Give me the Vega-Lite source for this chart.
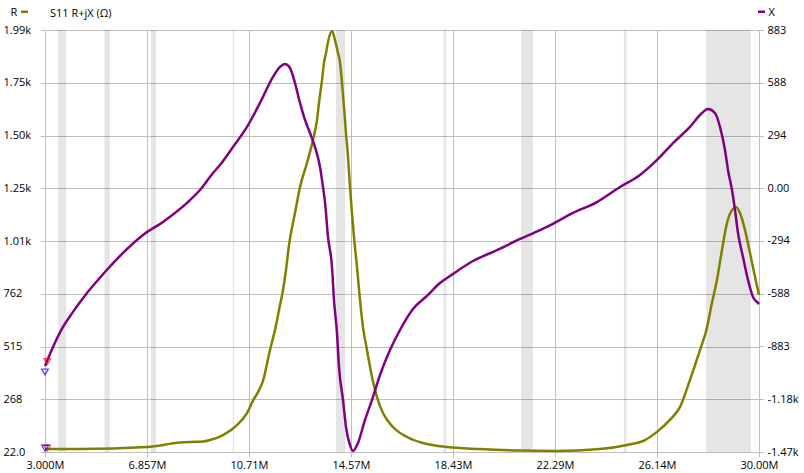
{
  "$schema": "https://vega.github.io/schema/vega-lite/v6.json",
  "width": 714,
  "height": 422,
  "autosize": {"type": "none"},
  "padding": {"left": 45, "top": 30, "right": 45, "bottom": 21},
  "background": "white",
  "config": {
    "font": "Open Sans",
    "view": {"stroke": null},
    "axis": {"labelFont": "Open Sans", "labelFontSize": 11, "labelColor": "#000", "titleFont": "Open Sans", "titleFontSize": 11, "titleFontWeight": "normal", "titleColor": "#000"}
  },
  "title": {"text": "S11 R+jX (Ω)", "anchor": "start", "frame": "group", "dx": 5, "dy": 13, "offset": 0, "fontSize": 11, "fontWeight": "normal", "font": "Open Sans", "color": "#000"},
  "datasets": {
    "bands": [
      {"f1": 3.5, "f2": 3.8},
      {"f1": 5.25, "f2": 5.45},
      {"f1": 7.0, "f2": 7.2},
      {"f1": 10.1, "f2": 10.15},
      {"f1": 14.0, "f2": 14.35},
      {"f1": 18.068, "f2": 18.168},
      {"f1": 21.0, "f2": 21.45},
      {"f1": 24.89, "f2": 24.99},
      {"f1": 28.0, "f2": 29.7}
    ],
    "R": [
      {"f": 3.0, "v": 36}, {"f": 4.32, "v": 36}, {"f": 6.857, "v": 45}, {"f": 8.105, "v": 66},
      {"f": 8.483, "v": 69}, {"f": 8.975, "v": 71}, {"f": 9.24, "v": 78}, {"f": 9.731, "v": 101},
      {"f": 10.26, "v": 148}, {"f": 10.639, "v": 204}, {"f": 10.865, "v": 262}, {"f": 11.055, "v": 302}, {"f": 11.244, "v": 355},
      {"f": 11.508, "v": 499}, {"f": 11.697, "v": 592}, {"f": 11.849, "v": 686}, {"f": 12.0, "v": 779},
      {"f": 12.113, "v": 873}, {"f": 12.227, "v": 990}, {"f": 12.454, "v": 1139}, {"f": 12.643, "v": 1261},
      {"f": 12.907, "v": 1373}, {"f": 13.134, "v": 1481}, {"f": 13.285, "v": 1574}, {"f": 13.361, "v": 1654},
      {"f": 13.475, "v": 1761}, {"f": 13.55, "v": 1841}, {"f": 13.626, "v": 1887}, {"f": 13.702, "v": 1939},
      {"f": 13.853, "v": 1990}, {"f": 13.966, "v": 1948}, {"f": 14.08, "v": 1887}, {"f": 14.155, "v": 1845},
      {"f": 14.231, "v": 1747}, {"f": 14.307, "v": 1635}, {"f": 14.382, "v": 1513}, {"f": 14.458, "v": 1401},
      {"f": 14.533, "v": 1261}, {"f": 14.609, "v": 1139}, {"f": 14.685, "v": 1027}, {"f": 14.798, "v": 887},
      {"f": 14.912, "v": 733}, {"f": 15.025, "v": 606}, {"f": 15.176, "v": 499}, {"f": 15.365, "v": 373},
      {"f": 15.554, "v": 279}, {"f": 15.781, "v": 204}, {"f": 16.159, "v": 139}, {"f": 16.689, "v": 92},
      {"f": 17.294, "v": 64}, {"f": 18.2, "v": 45}, {"f": 19.449, "v": 36}, {"f": 20.96, "v": 29},
      {"f": 22.32, "v": 27}, {"f": 23.99, "v": 36}, {"f": 25.01, "v": 55}, {"f": 25.69, "v": 78},
      {"f": 26.14, "v": 116}, {"f": 26.63, "v": 172}, {"f": 27.01, "v": 232}, {"f": 27.39, "v": 359},
      {"f": 27.77, "v": 499}, {"f": 28.03, "v": 602}, {"f": 28.22, "v": 719}, {"f": 28.41, "v": 826},
      {"f": 28.6, "v": 966}, {"f": 28.79, "v": 1093}, {"f": 28.98, "v": 1153}, {"f": 29.13, "v": 1167},
      {"f": 29.28, "v": 1139}, {"f": 29.47, "v": 1060}, {"f": 29.66, "v": 952}, {"f": 29.85, "v": 840},
      {"f": 30.0, "v": 756}
    ],
    "X": [
      {"f": 3.0, "v": -992}, {"f": 3.303, "v": -886}, {"f": 3.681, "v": -774}, {"f": 4.059, "v": -690},
      {"f": 4.588, "v": -585}, {"f": 5.193, "v": -480}, {"f": 5.95, "v": -361}, {"f": 6.706, "v": -261},
      {"f": 7.462, "v": -188}, {"f": 8.37, "v": -82}, {"f": 8.861, "v": -10}, {"f": 9.353, "v": 85},
      {"f": 9.618, "v": 130}, {"f": 10.109, "v": 230}, {"f": 10.639, "v": 342}, {"f": 11.13, "v": 476},
      {"f": 11.622, "v": 621}, {"f": 11.886, "v": 677}, {"f": 12.076, "v": 693}, {"f": 12.265, "v": 671},
      {"f": 12.454, "v": 587}, {"f": 12.643, "v": 476}, {"f": 12.832, "v": 381}, {"f": 13.021, "v": 308},
      {"f": 13.21, "v": 230}, {"f": 13.4, "v": 119}, {"f": 13.512, "v": 7}, {"f": 13.588, "v": -77},
      {"f": 13.702, "v": -272}, {"f": 13.853, "v": -439}, {"f": 13.928, "v": -624}, {"f": 14.042, "v": -808},
      {"f": 14.117, "v": -997}, {"f": 14.269, "v": -1182}, {"f": 14.382, "v": -1332}, {"f": 14.533, "v": -1433},
      {"f": 14.647, "v": -1466}, {"f": 14.836, "v": -1421}, {"f": 15.1, "v": -1293}, {"f": 15.365, "v": -1182},
      {"f": 15.668, "v": -1042}, {"f": 16.046, "v": -903}, {"f": 16.424, "v": -791}, {"f": 16.916, "v": -674},
      {"f": 17.445, "v": -601}, {"f": 17.937, "v": -529}, {"f": 18.315, "v": -490}, {"f": 19.185, "v": -406},
      {"f": 20.092, "v": -345}, {"f": 20.962, "v": -283}, {"f": 21.983, "v": -216}, {"f": 22.966, "v": -138},
      {"f": 23.874, "v": -77}, {"f": 24.743, "v": 7}, {"f": 25.5, "v": 74}, {"f": 26.143, "v": 158},
      {"f": 26.748, "v": 252}, {"f": 27.39, "v": 342}, {"f": 27.844, "v": 420}, {"f": 28.071, "v": 442},
      {"f": 28.336, "v": 420}, {"f": 28.525, "v": 342}, {"f": 28.714, "v": 213}, {"f": 28.827, "v": 102},
      {"f": 28.979, "v": -10}, {"f": 29.092, "v": -121}, {"f": 29.206, "v": -250}, {"f": 29.395, "v": -384},
      {"f": 29.584, "v": -512}, {"f": 29.773, "v": -607}, {"f": 29.962, "v": -640}, {"f": 30.0, "v": -646}
    ],
    "markers": [
      {"f": 3.0, "v": 40, "m": "2", "t": "R"},
      {"f": 3.08, "v": 40, "m": "1", "t": "R"},
      {"f": 3.09, "v": -967, "m": "1", "t": "X"},
      {"f": 3.0, "v": -1025, "m": "2", "t": "X"}
    ]
  },
  "layer": [
    {
      "data": {"name": "bands"},
      "mark": {"type": "rect", "color": "#000", "opacity": 0.1},
      "encoding": {
        "x": {
          "field": "f1", "type": "quantitative",
          "scale": {"domain": [3, 30], "nice": false, "zero": false},
          "axis": {
            "title": null, "domain": false, "grid": true, "gridColor": "#c0c0c0", "gridWidth": 1,
            "tickColor": "#c0c0c0", "tickSize": 5, "labelPadding": 2, "labelFlush": false, "labelOverlap": false,
            "values": [3, 6.857142857, 10.71428571, 14.57142857, 18.42857143, 22.28571429, 26.14285714, 30],
            "labelExpr": "['3.000M','6.857M','10.71M','14.57M','18.43M','22.29M','26.14M','30.00M'][round((datum.value-3)/27*7)]"
          }
        },
        "x2": {"field": "f2"}
      }
    },
    {
      "layer": [
        {
          "data": {"name": "R"},
          "mark": {"type": "line", "strokeWidth": 2.5, "interpolate": "monotone"},
          "encoding": {
            "x": {"field": "f", "type": "quantitative", "scale": {"domain": [3, 30], "nice": false, "zero": false}},
            "y": {
              "field": "v", "type": "quantitative",
              "scale": {"domain": [22, 1995], "nice": false, "zero": false},
              "axis": {
                "orient": "left", "domain": false, "grid": true, "gridColor": "#c0c0c0", "gridWidth": 1,
                "tickColor": "#c0c0c0", "tickSize": 5, "labelAlign": "left", "labelPadding": 37, "labelOverlap": false, "labelFlush": false,
                "values": [22, 268.625, 515.25, 761.875, 1008.5, 1255.125, 1501.75, 1748.375, 1995],
                "labelExpr": "['22.0','268','515','762','1.01k','1.25k','1.50k','1.75k','1.99k'][round((datum.value-22)/246.625)]",
                "title": "R", "titleAngle": 0, "titleAlign": "left", "titleBaseline": "middle", "titleX": -35, "titleY": -18
              }
            },
            "color": {
              "datum": "R",
              "scale": {"domain": ["R", "X"], "range": ["#808000", "#800080"]},
              "legend": {
                "title": null, "orient": "none", "legendX": -26, "legendY": -24, "direction": "horizontal",
                "symbolType": "stroke", "symbolSize": 49, "symbolStrokeWidth": 2.5, "labelFontSize": 11, "labelFont": "Open Sans", "labelColor": "#000",
                "labelOffset": 4, "padding": 0, "columnPadding": 719,
                "labelExpr": "''"
              }
            }
          }
        },
        {
          "data": {"name": "markers"},
          "transform": [{"filter": "datum.t == 'R' && datum.m == '1'"}],
          "mark": {"type": "point", "shape": "triangle-down", "filled": false, "size": 45, "strokeWidth": 1.3, "stroke": "#ff0000"},
          "encoding": {
            "x": {"field": "f", "type": "quantitative", "scale": {"domain": [3, 30], "nice": false, "zero": false}},
            "y": {"field": "v", "type": "quantitative", "scale": {"domain": [22, 1995], "nice": false, "zero": false}}
          }
        },
        {
          "data": {"name": "markers"},
          "transform": [{"filter": "datum.t == 'R' && datum.m == '2'"}],
          "mark": {"type": "point", "shape": "triangle-down", "filled": false, "size": 45, "strokeWidth": 1.3, "stroke": "#0000ff"},
          "encoding": {
            "x": {"field": "f", "type": "quantitative", "scale": {"domain": [3, 30], "nice": false, "zero": false}},
            "y": {"field": "v", "type": "quantitative", "scale": {"domain": [22, 1995], "nice": false, "zero": false}}
          }
        }
      ]
    },
    {
      "layer": [
        {
          "data": {"name": "X"},
          "mark": {"type": "line", "strokeWidth": 2.5, "interpolate": "monotone"},
          "encoding": {
            "x": {"field": "f", "type": "quantitative", "scale": {"domain": [3, 30], "nice": false, "zero": false}},
            "y": {
              "field": "v", "type": "quantitative",
              "scale": {"domain": [-1471.667, 883], "nice": false, "zero": false},
              "axis": {
                "orient": "right", "domain": false, "grid": false,
                "tickColor": "#c0c0c0", "tickSize": 5, "labelPadding": 3, "labelOverlap": false, "labelFlush": false,
                "values": [-1471.667, -1177.333, -883, -588.667, -294.333, 0, 294.333, 588.667, 883],
                "labelExpr": "['-1.47k','-1.18k','-883','-588','-294','0.00','294','588','883'][round((datum.value+1471.667)/294.333)]",
                "title": "X", "titleAngle": 0, "titleAlign": "left", "titleBaseline": "middle", "titleX": 9, "titleY": -18
              }
            },
            "color": {"datum": "X"}
          }
        },
        {
          "data": {"name": "markers"},
          "transform": [{"filter": "datum.t == 'X' && datum.m == '1'"}],
          "mark": {"type": "point", "shape": "triangle-down", "filled": false, "size": 45, "strokeWidth": 1.3, "stroke": "#ff0000"},
          "encoding": {
            "x": {"field": "f", "type": "quantitative", "scale": {"domain": [3, 30], "nice": false, "zero": false}},
            "y": {"field": "v", "type": "quantitative", "scale": {"domain": [-1471.667, 883], "nice": false, "zero": false}}
          }
        },
        {
          "data": {"name": "markers"},
          "transform": [{"filter": "datum.t == 'X' && datum.m == '2'"}],
          "mark": {"type": "point", "shape": "triangle-down", "filled": false, "size": 45, "strokeWidth": 1.3, "stroke": "#0000ff"},
          "encoding": {
            "x": {"field": "f", "type": "quantitative", "scale": {"domain": [3, 30], "nice": false, "zero": false}},
            "y": {"field": "v", "type": "quantitative", "scale": {"domain": [-1471.667, 883], "nice": false, "zero": false}}
          }
        }
      ]
    }
  ],
  "resolve": {"scale": {"y": "independent"}}
}
